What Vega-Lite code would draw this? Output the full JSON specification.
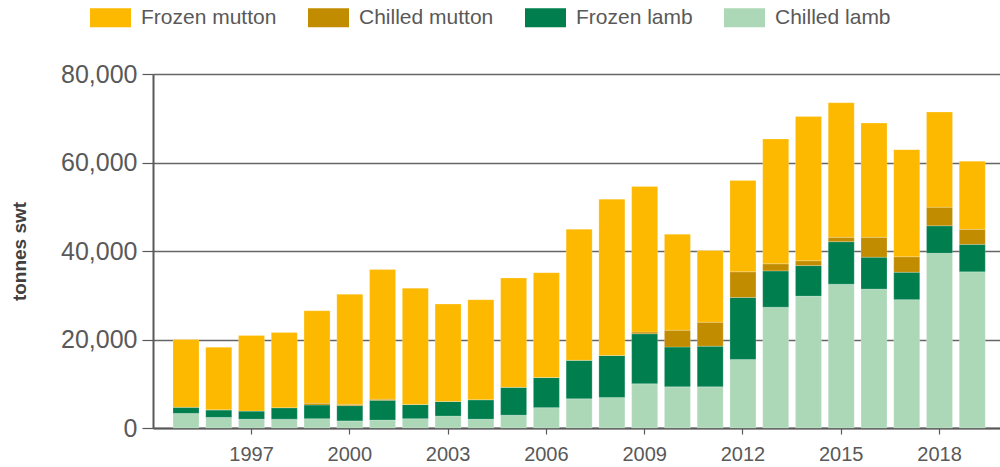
{
  "$schema": "https://vega.github.io/schema/vega-lite/v6.json",
  "width": 847,
  "height": 354,
  "autosize": {"type": "none"},
  "padding": {"left": 153, "top": 74, "right": 0, "bottom": 39},
  "background": "white",
  "config": {
    "font": "Liberation Sans",
    "view": {"stroke": null}
  },
  "data": {
    "values": [
      {"year": 1995, "Chilled lamb": 3300, "Frozen lamb": 1400, "Chilled mutton": 0, "Frozen mutton": 15300},
      {"year": 1996, "Chilled lamb": 2400, "Frozen lamb": 1700, "Chilled mutton": 0, "Frozen mutton": 14150},
      {"year": 1997, "Chilled lamb": 2000, "Frozen lamb": 1850, "Chilled mutton": 0, "Frozen mutton": 17050},
      {"year": 1998, "Chilled lamb": 2000, "Frozen lamb": 2600, "Chilled mutton": 0, "Frozen mutton": 17000},
      {"year": 1999, "Chilled lamb": 2100, "Frozen lamb": 3100, "Chilled mutton": 400, "Frozen mutton": 20900},
      {"year": 2000, "Chilled lamb": 1600, "Frozen lamb": 3450, "Chilled mutton": 300, "Frozen mutton": 24850},
      {"year": 2001, "Chilled lamb": 1800, "Frozen lamb": 4460, "Chilled mutton": 240, "Frozen mutton": 29300},
      {"year": 2002, "Chilled lamb": 2100, "Frozen lamb": 3200, "Chilled mutton": 0, "Frozen mutton": 26300},
      {"year": 2003, "Chilled lamb": 2700, "Frozen lamb": 3300, "Chilled mutton": 0, "Frozen mutton": 22000},
      {"year": 2004, "Chilled lamb": 2000, "Frozen lamb": 4400, "Chilled mutton": 0, "Frozen mutton": 22600},
      {"year": 2005, "Chilled lamb": 2900, "Frozen lamb": 6300, "Chilled mutton": 0, "Frozen mutton": 24700},
      {"year": 2006, "Chilled lamb": 4600, "Frozen lamb": 6800, "Chilled mutton": 0, "Frozen mutton": 23700},
      {"year": 2007, "Chilled lamb": 6600, "Frozen lamb": 8700, "Chilled mutton": 0, "Frozen mutton": 29600},
      {"year": 2008, "Chilled lamb": 6900, "Frozen lamb": 9500, "Chilled mutton": 0, "Frozen mutton": 35300},
      {"year": 2009, "Chilled lamb": 10000, "Frozen lamb": 11300, "Chilled mutton": 400, "Frozen mutton": 32900},
      {"year": 2010, "Chilled lamb": 9300, "Frozen lamb": 9000, "Chilled mutton": 3800, "Frozen mutton": 21700},
      {"year": 2011, "Chilled lamb": 9300, "Frozen lamb": 9200, "Chilled mutton": 5400, "Frozen mutton": 16200},
      {"year": 2012, "Chilled lamb": 15500, "Frozen lamb": 14000, "Chilled mutton": 5800, "Frozen mutton": 20660},
      {"year": 2013, "Chilled lamb": 27300, "Frozen lamb": 8200, "Chilled mutton": 1600, "Frozen mutton": 28200},
      {"year": 2014, "Chilled lamb": 29800, "Frozen lamb": 6900, "Chilled mutton": 1100, "Frozen mutton": 32600},
      {"year": 2015, "Chilled lamb": 32500, "Frozen lamb": 9600, "Chilled mutton": 1000, "Frozen mutton": 30400},
      {"year": 2016, "Chilled lamb": 31400, "Frozen lamb": 7200, "Chilled mutton": 4500, "Frozen mutton": 25800},
      {"year": 2017, "Chilled lamb": 29000, "Frozen lamb": 6200, "Chilled mutton": 3500, "Frozen mutton": 24200},
      {"year": 2018, "Chilled lamb": 39500, "Frozen lamb": 6200, "Chilled mutton": 4200, "Frozen mutton": 21500},
      {"year": 2019, "Chilled lamb": 35300, "Frozen lamb": 6200, "Chilled mutton": 3400, "Frozen mutton": 15400}
    ]
  },
  "transform": [
    {"fold": ["Chilled lamb", "Frozen lamb", "Chilled mutton", "Frozen mutton"], "as": ["type", "tonnes"]},
    {"calculate": "indexof(['Chilled lamb','Frozen lamb','Chilled mutton','Frozen mutton'], datum.type)", "as": "stackorder"}
  ],
  "mark": {"type": "bar", "stroke": "white", "strokeWidth": 0.6, "strokeOpacity": 0.35},
  "encoding": {
    "x": {
      "field": "year",
      "type": "ordinal",
      "scale": {"paddingInner": 0.206, "paddingOuter": 0.53, "align": 0.576},
      "axis": {
        "title": null,
        "values": [1997, 2000, 2003, 2006, 2009, 2012, 2015, 2018],
        "labelAngle": 0,
        "labelFontSize": 20,
        "labelColor": "#595959",
        "labelPadding": 10,
        "tickSize": 6,
        "tickColor": "#595959",
        "tickWidth": 1.2,
        "domainColor": "#595959",
        "domainWidth": 2,
        "grid": false
      }
    },
    "y": {
      "field": "tonnes",
      "type": "quantitative",
      "stack": "zero",
      "scale": {"domain": [0, 80000], "nice": false},
      "axis": {
        "title": "tonnes swt",
        "titleFontSize": 19,
        "titleFontWeight": "bold",
        "titleColor": "#404040",
        "titlePadding": 31,
        "values": [0, 20000, 40000, 60000, 80000],
        "format": ",d",
        "labelFontSize": 25,
        "labelColor": "#595959",
        "labelPadding": 5,
        "tickSize": 11,
        "tickColor": "#595959",
        "tickWidth": 1.2,
        "domainColor": "#595959",
        "domainWidth": 2,
        "grid": true,
        "gridColor": "#666666",
        "gridWidth": 1.6
      }
    },
    "color": {
      "field": "type",
      "type": "nominal",
      "scale": {
        "domain": ["Frozen mutton", "Chilled mutton", "Frozen lamb", "Chilled lamb"],
        "range": ["#FDB900", "#C18C00", "#007E4E", "#ADD8B7"]
      },
      "legend": {
        "title": null,
        "orient": "none",
        "direction": "horizontal",
        "legendX": -63,
        "legendY": -77,
        "symbolType": "M-1,-0.463H1V0.463H-1Z",
        "symbolSize": 1681,
        "symbolStrokeWidth": 0,
        "symbolOpacity": 1,
        "labelFontSize": 21,
        "labelColor": "#595959",
        "labelOffset": 10,
        "columnPadding": 31,
        "labelLimit": 300
      }
    },
    "order": {"field": "stackorder", "type": "quantitative"}
  }
}
